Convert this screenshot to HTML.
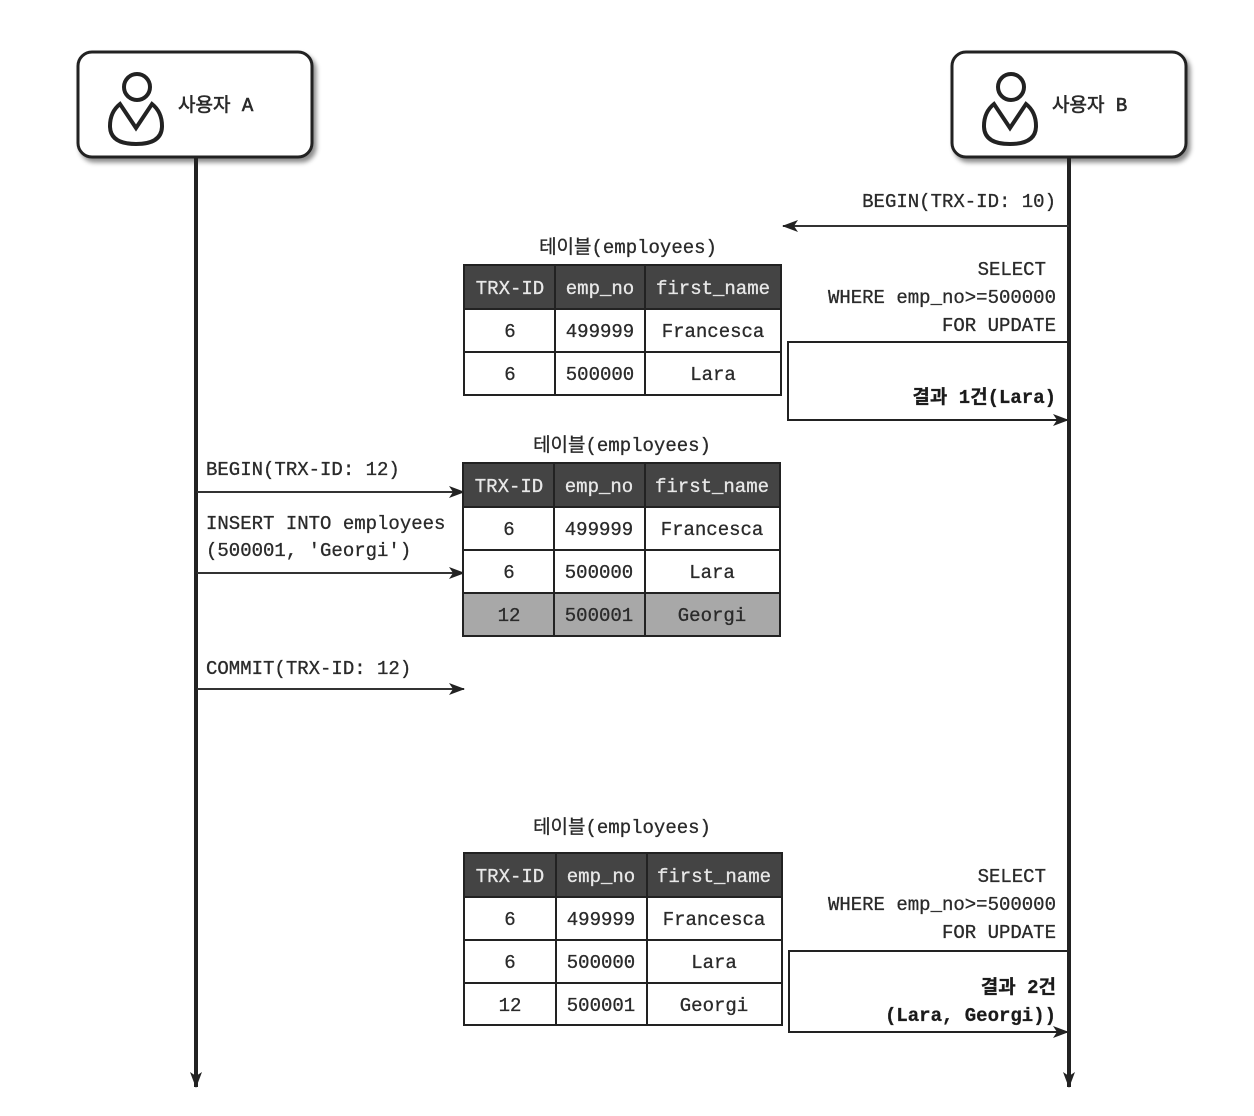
<!DOCTYPE html>
<html><head><meta charset="utf-8"><style>
html,body{margin:0;padding:0;background:#fff;}
svg{display:block;}
text{font-family:"Liberation Mono","Noto Sans CJK KR",monospace;font-size:19px;fill:#2a2a2a;stroke:#2a2a2a;stroke-width:0.3px;}
.h{fill:#e8e8e8;stroke:#e8e8e8;}
.b{font-weight:bold;fill:#1a1a1a;}
</style></head><body>
<svg width="1254" height="1116" viewBox="0 0 1254 1116" xmlns="http://www.w3.org/2000/svg">
<defs>
<marker id="ar" markerWidth="16" markerHeight="12" refX="15" refY="6" orient="auto" markerUnits="userSpaceOnUse">
<path d="M0,0 L16,6 L0,12 L4,6 Z" fill="#222"/></marker>
<filter id="sh" x="-10%" y="-10%" width="130%" height="140%"><feDropShadow dx="3" dy="4" stdDeviation="2.5" flood-color="#000" flood-opacity="0.45"/></filter>
</defs>

<rect x="78" y="52" width="234" height="105" rx="14" fill="#fff" stroke="#222" stroke-width="3" filter="url(#sh)"/>
<rect x="952" y="52" width="234" height="105" rx="14" fill="#fff" stroke="#222" stroke-width="3" filter="url(#sh)"/>
<g fill="none" stroke="#222" stroke-width="4">
<circle cx="137" cy="87" r="13"/>
<path d="M120,104 Q110,112 110,126 Q110,144 136,144 Q162,144 162,126 Q162,112 152,104 L136,128 Z"/>
<circle cx="1011" cy="87" r="13"/>
<path d="M994,104 Q984,112 984,126 Q984,144 1010,144 Q1036,144 1036,126 Q1036,112 1026,104 L1010,128 Z"/>
</g>
<text x="178" y="111" font-size="21" style="stroke-width:0.6px">사용자 A</text>
<text x="1052" y="111" font-size="21" style="stroke-width:0.6px">사용자 B</text>

<line x1="196" y1="158" x2="196" y2="1087" stroke="#222" stroke-width="4" marker-end="url(#ar)"/>
<line x1="1069" y1="158" x2="1069" y2="1087" stroke="#222" stroke-width="4" marker-end="url(#ar)"/>

<text x="1056" y="207" text-anchor="end">BEGIN(TRX-ID: 10)</text>
<line x1="1069" y1="226" x2="783" y2="226" stroke="#333" stroke-width="2" marker-end="url(#ar)"/>

<text x="628" y="253" text-anchor="middle">테이블(employees)</text>
<g stroke="#222" stroke-width="2">
<rect x="464" y="265" width="317" height="44" fill="#444"/>
<rect x="464" y="309" width="317" height="86" fill="#fff"/>
<line x1="464" y1="352" x2="781" y2="352"/>
<line x1="555" y1="265" x2="555" y2="395"/>
<line x1="645" y1="265" x2="645" y2="395"/>
</g>
<g text-anchor="middle">
<text class="h" x="510" y="294">TRX-ID</text><text class="h" x="600" y="294">emp_no</text><text class="h" x="713" y="294">first_name</text>
<text x="510" y="337">6</text><text x="600" y="337">499999</text><text x="713" y="337">Francesca</text>
<text x="510" y="380">6</text><text x="600" y="380">500000</text><text x="713" y="380">Lara</text>
</g>

<g text-anchor="end">
<text x="1046" y="275">SELECT</text>
<text x="1056" y="303">WHERE emp_no&gt;=500000</text>
<text x="1056" y="331">FOR UPDATE</text>
<text class="b" x="1056" y="403" font-size="20">결과 1건(Lara)</text>
</g>
<polyline points="1069,342 788,342 788,420 1068,420" fill="none" stroke="#222" stroke-width="2" marker-end="url(#ar)"/>

<text x="206" y="475">BEGIN(TRX-ID: 12)</text>
<line x1="197" y1="492" x2="464" y2="492" stroke="#333" stroke-width="2" marker-end="url(#ar)"/>
<text x="206" y="529">INSERT INTO employees</text>
<text x="206" y="556">(500001, 'Georgi')</text>
<line x1="197" y1="573" x2="464" y2="573" stroke="#333" stroke-width="2" marker-end="url(#ar)"/>
<text x="206" y="674">COMMIT(TRX-ID: 12)</text>
<line x1="197" y1="689" x2="464" y2="689" stroke="#333" stroke-width="2" marker-end="url(#ar)"/>

<text x="622" y="451" text-anchor="middle">테이블(employees)</text>
<g stroke="#222" stroke-width="2">
<rect x="463" y="463" width="317" height="44" fill="#444"/>
<rect x="463" y="507" width="317" height="86" fill="#fff"/>
<rect x="463" y="593" width="317" height="43" fill="#a8a8a8"/>
<line x1="463" y1="550" x2="780" y2="550"/>
<line x1="554" y1="463" x2="554" y2="636"/>
<line x1="645" y1="463" x2="645" y2="636"/>
</g>
<g text-anchor="middle">
<text class="h" x="509" y="492">TRX-ID</text><text class="h" x="599" y="492">emp_no</text><text class="h" x="712" y="492">first_name</text>
<text x="509" y="535">6</text><text x="599" y="535">499999</text><text x="712" y="535">Francesca</text>
<text x="509" y="578">6</text><text x="599" y="578">500000</text><text x="712" y="578">Lara</text>
<text x="509" y="621">12</text><text x="599" y="621">500001</text><text x="712" y="621">Georgi</text>
</g>

<text x="622" y="833" text-anchor="middle">테이블(employees)</text>
<g stroke="#222" stroke-width="2">
<rect x="464" y="853" width="318" height="44" fill="#444"/>
<rect x="464" y="897" width="318" height="128" fill="#fff"/>
<line x1="464" y1="940" x2="782" y2="940"/>
<line x1="464" y1="983" x2="782" y2="983"/>
<line x1="556" y1="853" x2="556" y2="1025"/>
<line x1="647" y1="853" x2="647" y2="1025"/>
</g>
<g text-anchor="middle">
<text class="h" x="510" y="882">TRX-ID</text><text class="h" x="601" y="882">emp_no</text><text class="h" x="714" y="882">first_name</text>
<text x="510" y="925">6</text><text x="601" y="925">499999</text><text x="714" y="925">Francesca</text>
<text x="510" y="968">6</text><text x="601" y="968">500000</text><text x="714" y="968">Lara</text>
<text x="510" y="1011">12</text><text x="601" y="1011">500001</text><text x="714" y="1011">Georgi</text>
</g>

<g text-anchor="end">
<text x="1046" y="882">SELECT</text>
<text x="1056" y="910">WHERE emp_no&gt;=500000</text>
<text x="1056" y="938">FOR UPDATE</text>
<text class="b" x="1056" y="993" font-size="20">결과 2건</text>
<text class="b" x="1056" y="1021">(Lara, Georgi))</text>
</g>
<polyline points="1069,951 789,951 789,1032 1068,1032" fill="none" stroke="#222" stroke-width="2" marker-end="url(#ar)"/>
</svg>
</body></html>
